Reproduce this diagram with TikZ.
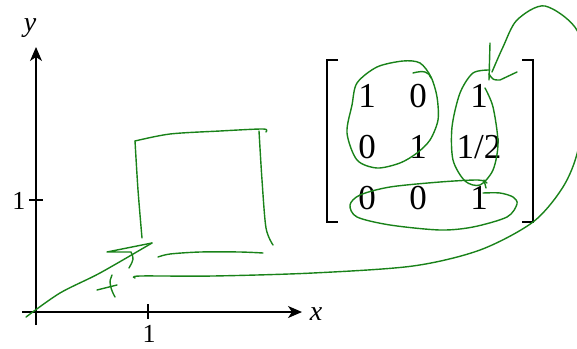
\documentclass[tikz,border=0pt]{standalone}
\usepackage{fontspec}
\setmainfont{Liberation Serif}
\usepackage{xcolor}
\usepackage{tikz}
\usetikzlibrary{arrows.meta,matrix}
\definecolor{inkgreen}{RGB}{25,130,25}
\newcommand\matfont{\fontsize{35}{37}\selectfont}
\newcommand\numfont{\fontsize{26}{28}\selectfont}
\newcommand\varfont{\fontsize{28}{30}\selectfont\itshape}
\tikzset{
  axisline/.style={-{Stealth[length=14pt,width=12pt,inset=4pt]}, line width=1.4pt},
  ticklin/.style={line width=1.2pt},
  brk/.style={line width=1.3pt},
  ink/.style={draw=inkgreen, line width=1.4pt, line cap=round, line join=round},
  varlbl/.style={font=\varfont, inner sep=0pt, anchor=base},
  numlbl/.style={font=\numfont, inner sep=0pt, anchor=base}
}
\begin{document}
\begin{tikzpicture}[x=1pt, y=-1pt]
\clip (0,0) rectangle (577,348);
% axes
\coordinate (O) at (36,312);
\draw[axisline] (36,325) -- (36,47);
\draw[axisline] (22,312) -- (302,312);
\draw[ticklin] (148,304) -- (148,319);
\draw[ticklin] (29,200) -- (43,200);
\node[varlbl] (ylbl) at (30,31) {y};
\node[varlbl] (xlbl) at (316,320) {x};
\node[numlbl] (xone) at (149,342) {1};
\node[numlbl] (yone) at (19,209) {1};
% the matrix
\matrix (m) [matrix of nodes, anchor=center, at={(428,146)}, column sep=21pt, row sep=0pt,
  nodes={font=\matfont, inner sep=0pt, text height=24pt, text depth=0pt,
         minimum height=51pt, minimum width=30pt, anchor=center},
  column 3/.style={nodes={minimum width=50pt}}] {
  1 & 0 & 1 \\
  0 & 1 & 1/2 \\
  0 & 0 & 1 \\
};
\draw[brk] (338,60) -- (327,60) -- (327,222) -- (338,222);
\draw[brk] (522,60) -- (533,60) -- (533,222) -- (522,222);
% green pen: the square
\draw[ink] plot[smooth] coordinates {(135,141) (170,134) (220,131) (263,129) (266,132)};
\draw[ink] plot[smooth] coordinates {(259,131) (262,180) (266,228) (273,245)};
\draw[ink] plot[smooth] coordinates {(135,141) (138,190) (142,238)};
\draw[ink] plot[smooth] coordinates {(158,257) (170,254) (200,252) (240,252) (263,253)};
% green pen: arrow from the origin, and the t
\draw[ink] plot[smooth] coordinates {(26,317) (60,293) (100,273) (152,243)};
\draw[ink] (152,243) -- (107,252) -- (131,252) .. controls (134,259) .. (129,268);
\draw[ink] (97,290) -- (117,285);
\draw[ink] (112,275) .. controls (108,281) and (111,290) .. (115,297);
% green pen: loops round the matrix
\draw[ink] plot[smooth cycle] coordinates {(403,61) (420,63) (431,77) (437,97) (438,120)
  (430,140) (417,153) (400,163) (377,168) (357,160) (347,133) (352,105) (357,83) (377,67)};
\draw[ink] (413,73) .. controls (424,70) and (429,72) .. (431,78);
\draw[ink] plot[smooth] coordinates {(490,70) (473,73) (460,93) (452,127) (453,160)
  (465,181) (480,185) (493,170) (498,143) (493,107) (485,88)};
\draw[ink] (484,180) -- (486,188);
\draw[ink] plot[smooth] coordinates {(483,193) (500,193) (513,197) (517,204) (507,217)
  (473,227) (440,230) (390,225) (357,217) (350,205) (360,195) (390,187) (440,182)
  (478,180) (487,183)};
% green pen: long arrow back to the column
\draw[ink] plot[smooth] coordinates {(135,278) (140,276) (213,276) (313,273) (413,266)
  (480,250) (533,222) (563,187) (578,150) (586,90) (578,32) (545,6) (517,20) (503,47) (492,72)};
\draw[ink] (490,43) -- (489,80);
\draw[ink] (489,74) .. controls (493,80) .. (500,80) -- (517,72);
\end{tikzpicture}
\end{document}
